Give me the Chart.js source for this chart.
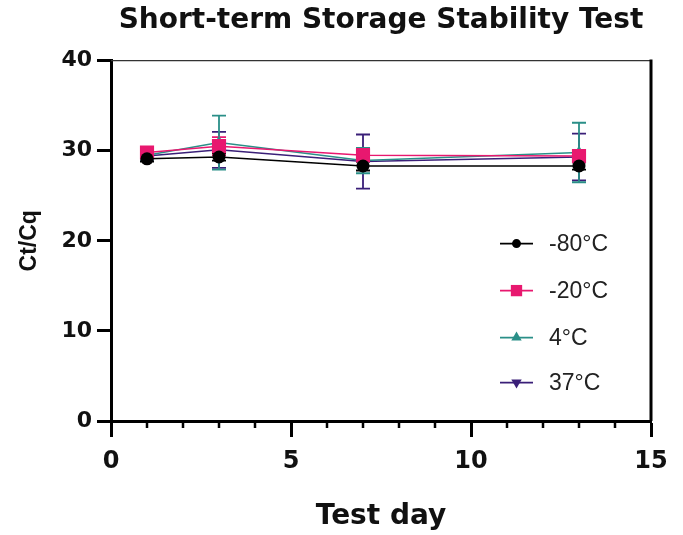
<!DOCTYPE html>
<html>
<head>
<meta charset="utf-8">
<script src="https://cdn.jsdelivr.net/npm/chart.js@4/dist/chart.umd.min.js"></script>
<style>
  html, body { margin: 0; padding: 0; background: #fff; }
  #wrap { width: 683px; height: 535px; }
</style>
</head>
<body>
<div id="wrap"><canvas id="stabilityChart" width="683" height="535"></canvas></div>
<script>
// test days
const days = [1, 3, 7, 13];

// mean Ct/Cq per storage temperature
const seriesLabels = ['-80°C', '-20°C', '4°C', '37°C'];
const ctMinus80 = [29.1, 29.3, 28.3, 28.3];
const ctMinus20 = [29.8, 30.5, 29.5, 29.4];
const ct4 = [29.5, 30.9, 28.9, 29.8];
const ct37 = [29.4, 30.1, 28.8, 29.3];

// SD (error bars)
const sdMinus80 = [0.3, 0.4, 0.5, 0.4];
const sdMinus20 = [0.4, 1.0, 0.7, 0.6];
const sd4 = [0.5, 3.0, 1.4, 3.3];
const sd37 = [0.4, 2.0, 3.0, 2.6];

const xTicks = [0, 5, 10, 15];
const yTicks = [0, 10, 20, 30, 40];

const colors = ['#000000', '#e8186f', '#2a8f88', '#3a1f78'];
const pointStyles = ['circle', 'rect', 'triangle', 'triangle'];
const pointRotations = [0, 0, 0, 180];
const pointRadii = [6.5, 10, 7, 7];
const allValues = [ctMinus80, ctMinus20, ct4, ct37];
const allErrors = [sdMinus80, sdMinus20, sd4, sd37];

const datasets = seriesLabels.map((label, i) => ({
  label: label,
  data: days.map((d, j) => ({ x: d, y: allValues[i][j] })),
  errors: allErrors[i],
  borderColor: colors[i],
  backgroundColor: colors[i],
  borderWidth: 1.5,
  pointStyle: pointStyles[i],
  pointRotation: pointRotations[i],
  pointRadius: pointRadii[i],
  pointBorderWidth: 0,
  pointHoverRadius: pointRadii[i],
  tension: 0
}));

// error bars behind the markers
const errorBars = {
  id: 'errorBars',
  beforeDatasetsDraw(chart) {
    const ctx = chart.ctx;
    const xs = chart.scales.x, ys = chart.scales.y;
    ctx.save();
    for (let i = chart.data.datasets.length - 1; i >= 0; i--) {
      const ds = chart.data.datasets[i];
      ctx.strokeStyle = ds.borderColor;
      ctx.lineWidth = 1.8;
      ds.data.forEach((p, j) => {
        const e = ds.errors[j];
        const x = xs.getPixelForValue(p.x);
        const top = ys.getPixelForValue(p.y + e);
        const bot = ys.getPixelForValue(p.y - e);
        ctx.beginPath();
        ctx.moveTo(x, top); ctx.lineTo(x, bot);
        ctx.moveTo(x - 7, top); ctx.lineTo(x + 7, top);
        ctx.moveTo(x - 7, bot); ctx.lineTo(x + 7, bot);
        ctx.stroke();
      });
    }
    ctx.restore();
  }
};

function drawMarker(ctx, style, rot, r, x, y) {
  ctx.beginPath();
  if (style === 'circle') {
    ctx.arc(x, y, r, 0, Math.PI * 2);
  } else if (style === 'rect') {
    const s = r * Math.SQRT1_2;
    ctx.rect(x - s, y - s, 2 * s, 2 * s);
  } else {
    const a = rot ? Math.PI / 2 : -Math.PI / 2;
    for (let k = 0; k < 3; k++) {
      const t = a + k * 2 * Math.PI / 3;
      const px = x + Math.cos(t) * r, py = y + Math.sin(t) * r;
      if (k === 0) ctx.moveTo(px, py); else ctx.lineTo(px, py);
    }
    ctx.closePath();
  }
  ctx.fill();
}

// frame, minor ticks and legend
const extras = {
  id: 'extras',
  afterDraw(chart) {
    const ctx = chart.ctx;
    const a = chart.chartArea;
    const xs = chart.scales.x;
    ctx.save();
    // top line + right border
    ctx.strokeStyle = '#333';
    ctx.lineWidth = 1.2;
    ctx.beginPath();
    ctx.moveTo(a.left, a.top); ctx.lineTo(a.right, a.top);
    ctx.stroke();
    ctx.strokeStyle = '#000';
    ctx.lineWidth = 3;
    ctx.beginPath();
    ctx.moveTo(a.right, a.top - 1); ctx.lineTo(a.right, a.bottom);
    ctx.stroke();
    // minor ticks on x axis
    ctx.lineWidth = 2.5;
    for (let v = xs.min; v <= xs.max; v++) {
      if (v % 5 === 0) continue;
      const x = xs.getPixelForValue(v);
      ctx.beginPath();
      ctx.moveTo(x, a.bottom); ctx.lineTo(x, a.bottom + 7);
      ctx.stroke();
    }
    // legend inside plot
    const lx = a.right - 151;
    const rows = [183, 230, 277, 322];
    ctx.font = '23px "Liberation Sans", Arial, sans-serif';
    ctx.textBaseline = 'middle';
    ctx.textAlign = 'left';
    chart.data.datasets.forEach((ds, i) => {
      const y = a.top + rows[i];
      ctx.strokeStyle = ds.borderColor;
      ctx.fillStyle = ds.borderColor;
      ctx.lineWidth = 1.8;
      ctx.beginPath();
      ctx.moveTo(lx, y); ctx.lineTo(lx + 33, y);
      ctx.stroke();
      const r = [4.5, 8, 6, 6][i];
      drawMarker(ctx, pointStyles[i], pointRotations[i], r, lx + 16.5, y);
      ctx.fillStyle = '#222';
      ctx.fillText(ds.label, lx + 49, y + 1);
    });
    ctx.restore();
  }
};

new Chart(document.getElementById('stabilityChart'), {
  type: 'line',
  data: { datasets: datasets },
  options: {
    responsive: false,
    animation: false,
    layout: { padding: { left: 0, right: 32, top: 0, bottom: 0 } },
    plugins: {
      legend: { display: false },
      tooltip: { enabled: false },
      title: {
        display: true,
        text: 'Short-term Storage Stability Test',
        fullSize: false,
        color: '#111',
        font: { family: '"DejaVu Sans", sans-serif', size: 28, weight: 'bold', lineHeight: 1.2 },
        padding: { top: 4, bottom: 23 }
      }
    },
    scales: {
      x: {
        type: 'linear',
        min: 0,
        max: 15,
        afterFit(scale) { scale.height = 114; },
        afterBuildTicks(scale) { scale.ticks = xTicks.map(v => ({ value: v })); },
        border: { display: true, color: '#000', width: 3 },
        grid: { display: true, drawOnChartArea: false, tickLength: 16, tickWidth: 3, tickColor: '#000' },
        ticks: {
          color: '#111',
          padding: 10,
          font: { family: '"DejaVu Sans", sans-serif', size: 24, weight: 'bold' }
        },
        title: {
          display: true,
          text: 'Test day',
          color: '#111',
          font: { family: '"DejaVu Sans", sans-serif', size: 28, weight: 'bold', lineHeight: 1 },
          padding: { top: 0, bottom: 4 }
        }
      },
      y: {
        min: 0,
        max: 40,
        afterFit(scale) { scale.width = 111; },
        afterBuildTicks(scale) { scale.ticks = yTicks.map(v => ({ value: v })); },
        border: { display: true, color: '#000', width: 3 },
        grid: { display: true, drawOnChartArea: false, tickLength: 14, tickWidth: 3, tickColor: '#000' },
        ticks: {
          color: '#111',
          padding: 5,
          font: { family: '"DejaVu Sans", sans-serif', size: 22, weight: 'bold' }
        },
        title: {
          display: true,
          text: 'Ct/Cq',
          color: '#111',
          font: { family: '"Liberation Sans", Arial, sans-serif', size: 23, weight: 'bold', lineHeight: 1 },
          padding: { top: 18, bottom: 0 }
        }
      }
    }
  },
  plugins: [errorBars, extras]
});
</script>
</body>
</html>
